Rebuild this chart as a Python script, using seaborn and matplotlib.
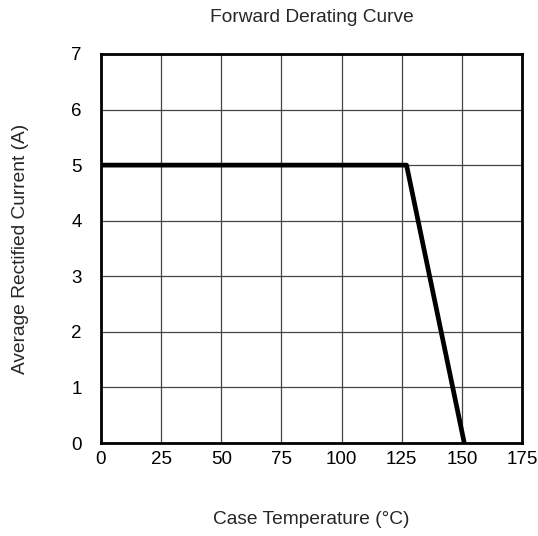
import matplotlib
matplotlib.use("Agg")
import matplotlib.pyplot as plt
import seaborn as sns
import pandas as pd

temperature = [0, 127, 151]
current = [5, 5, 0]
x_ticks = [0, 25, 50, 75, 100, 125, 150, 175]
y_ticks = [0, 1, 2, 3, 4, 5, 6, 7]

data = pd.DataFrame({"temperature": temperature, "current": current})

sns.set_style("white")
plt.rcParams['font.family'] = ['Liberation Sans', 'DejaVu Sans']

fig = plt.figure(figsize=(5.38, 5.36), dpi=100)
ax = fig.add_axes([0.1877, 0.1735, 0.7826, 0.7258])

sns.lineplot(data=data, x="temperature", y="current", color="black", linewidth=3.4, ax=ax, sort=False)

ax.set_xlim(0, 175)
ax.set_ylim(0, 7)
ax.set_xticks(x_ticks)
ax.set_yticks(y_ticks)
ax.grid(True, color="#444444", linewidth=0.9)
ax.set_axisbelow(True)
for side in ["left", "bottom", "top", "right"]:
    ax.spines[side].set_color("black")
    ax.spines[side].set_linewidth(2)
ax.tick_params(axis="both", length=0, labelsize=13.5, colors="black")
ax.tick_params(axis="x", pad=6)
ax.tick_params(axis="y", pad=14)

ax.set_title("Forward Derating Curve", fontsize=13.8, pad=23)
ax.set_xlabel("Case Temperature (°C)", fontsize=13.8, labelpad=31)
ax.set_ylabel("Average Rectified Current (A)", fontsize=13.8, labelpad=30)

fig.savefig("out.png", dpi=100)
